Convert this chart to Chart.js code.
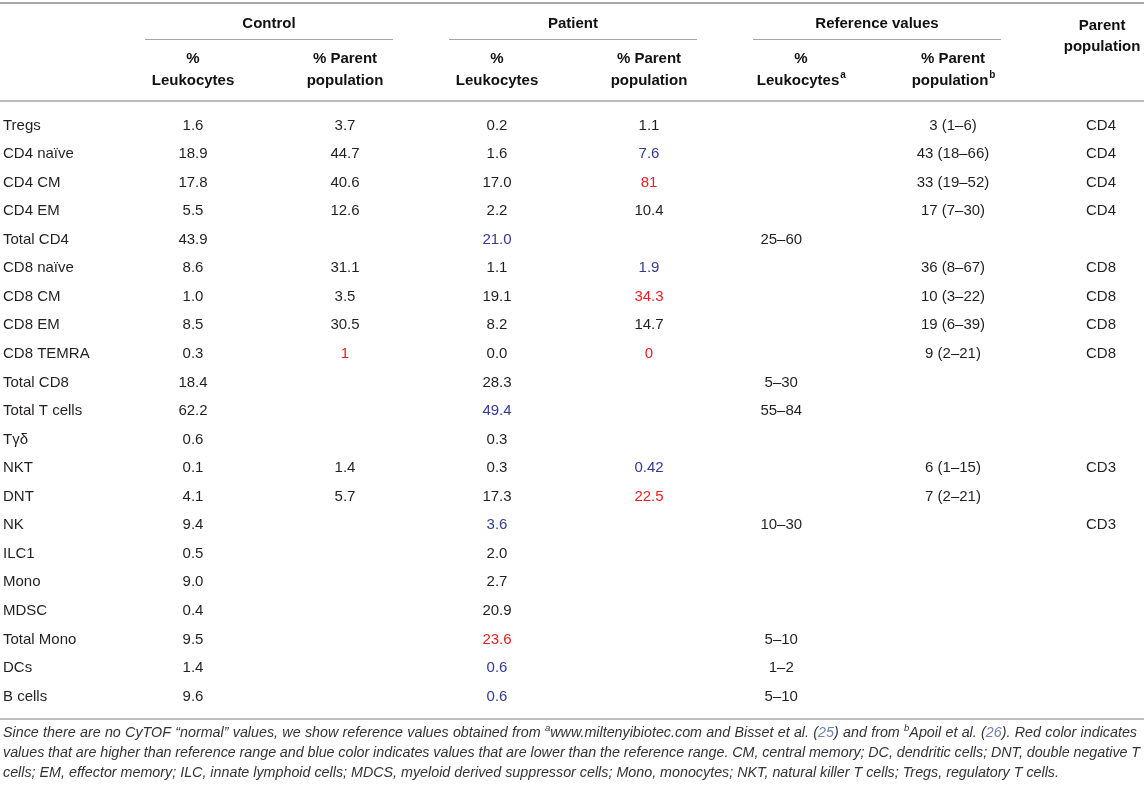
<!DOCTYPE html>
<html>
<head>
<meta charset="utf-8">
<script src="https://cdn.jsdelivr.net/npm/chart.js@4"></script>
<style>
html, body { margin: 0; padding: 0; background: #fff; }
canvas { display: block; }
</style>
</head>
<body>
<canvas id="tableChart" width="1144" height="790"></canvas>
<script>
// table rows
const cellTypes = ['Tregs', 'CD4 naïve', 'CD4 CM', 'CD4 EM', 'Total CD4', 'CD8 naïve', 'CD8 CM', 'CD8 EM',
  'CD8 TEMRA', 'Total CD8', 'Total T cells', 'Tγδ', 'NKT', 'DNT', 'NK', 'ILC1', 'Mono', 'MDSC',
  'Total Mono', 'DCs', 'B cells'];

const controlLeuk = [1.6, 18.9, 17.8, 5.5, 43.9, 8.6, 1.0, 8.5, 0.3, 18.4, 62.2, 0.6, 0.1, 4.1, 9.4, 0.5, 9.0, 0.4, 9.5, 1.4, 9.6];
const controlParent = [3.7, 44.7, 40.6, 12.6, null, 31.1, 3.5, 30.5, 1, null, null, null, 1.4, 5.7, null, null, null, null, null, null, null];
const patientLeuk = [0.2, 1.6, 17.0, 2.2, 21.0, 1.1, 19.1, 8.2, 0.0, 28.3, 49.4, 0.3, 0.3, 17.3, 3.6, 2.0, 2.7, 20.9, 23.6, 0.6, 0.6];
const patientParent = [1.1, 7.6, 81, 10.4, null, 1.9, 34.3, 14.7, 0, null, null, null, 0.42, 22.5, null, null, null, null, null, null, null];
const refLeuk = ['', '', '', '', '25–60', '', '', '', '', '5–30', '55–84', '', '', '', '10–30', '', '', '', '5–10', '1–2', '5–10'];
const refParent = ['3 (1–6)', '43 (18–66)', '33 (19–52)', '17 (7–30)', '', '36 (8–67)', '10 (3–22)', '19 (6–39)', '9 (2–21)',
  '', '', '', '6 (1–15)', '7 (2–21)', '', '', '', '', '', '', ''];
const parentPop = ['CD4', 'CD4', 'CD4', 'CD4', '', 'CD8', 'CD8', 'CD8', 'CD8', '', '', '', 'CD3', '', 'CD3', '', '', '', '', '', ''];

// H = above reference range (red), L = below (blue)
const controlParentFlag = ['', '', '', '', '', '', '', '', 'H', '', '', '', '', '', '', '', '', '', '', '', ''];
const patientLeukFlag = ['', '', '', '', 'L', '', '', '', '', '', 'L', '', '', '', 'L', '', '', '', 'H', 'L', 'L'];
const patientParentFlag = ['', 'L', 'H', '', '', 'L', 'H', '', 'H', '', '', '', 'L', 'H', '', '', '', '', '', '', ''];

const RED = '#ed1c24';
const BLUE = '#343895';
const TEXT = '#231f20';
const RULE = '#a7a7a7';
const FONT = '"Liberation Sans", Arial, Helvetica, sans-serif';

function fmtLeuk(v) { return v === null ? '' : v.toFixed(1); }
function fmtParent(v) { return v === null ? '' : String(v); }

function column(col, texts, flags, align) {
  return {
    data: texts.map((t, i) => ({ x: col, y: i, text: t, flag: flags ? flags[i] : '' })),
    align: align || 'center',
    pointRadius: 0,
    showLine: false
  };
}

const datasets = [
  column(-0.25, cellTypes, null, 'left'),
  column(1, controlLeuk.map(fmtLeuk)),
  column(2, controlParent.map(fmtParent), controlParentFlag),
  column(3, patientLeuk.map(fmtLeuk), patientLeukFlag),
  column(4, patientParent.map(fmtParent), patientParentFlag),
  column(4.87, refLeuk),
  column(6, refParent),
  column(6.974, parentPop)
];

// draws a line of mixed runs, optionally justified to a width
function drawRuns(ctx, runs, x, y, justifyTo) {
  const base = 'italic 14.3px ' + FONT;
  const small = 'italic 9.5px ' + FONT;
  let natural = 0, spaces = 0;
  runs.forEach(r => {
    ctx.font = r.sup ? small : base;
    natural += ctx.measureText(r.t).width;
    spaces += (r.t.match(/ /g) || []).length;
  });
  const extra = justifyTo && spaces ? (justifyTo - natural) / spaces : 0;
  let cx = x;
  runs.forEach(r => {
    ctx.font = r.sup ? small : base;
    ctx.fillStyle = r.color || '#333';
    const parts = r.t.split(' ');
    parts.forEach((p, k) => {
      ctx.fillText(p, cx, r.sup ? y - 5 : y);
      cx += ctx.measureText(p).width;
      if (k < parts.length - 1) cx += ctx.measureText(' ').width + extra;
    });
  });
}

const tablePlugin = {
  id: 'tableText',
  afterDatasetsDraw(chart) {
    const ctx = chart.ctx;
    const xs = chart.scales.x;
    ctx.save();

    // rules
    ctx.strokeStyle = RULE;
    ctx.lineWidth = 2;
    ctx.beginPath(); ctx.moveTo(0, 3); ctx.lineTo(1144, 3); ctx.stroke();
    ctx.lineWidth = 1.5;
    ctx.beginPath(); ctx.moveTo(0, 101); ctx.lineTo(1144, 101); ctx.stroke();
    ctx.beginPath(); ctx.moveTo(0, 719); ctx.lineTo(1144, 719); ctx.stroke();
    ctx.lineWidth = 1;
    [[1, 2], [3, 4], [5, 6]].forEach(([a, b]) => {
      const x0 = xs.getPixelForValue(a) - 48, x1 = xs.getPixelForValue(b) + 48;
      ctx.beginPath(); ctx.moveTo(x0, 39.5); ctx.lineTo(x1, 39.5); ctx.stroke();
    });

    // header
    ctx.fillStyle = '#111';
    ctx.textAlign = 'center';
    ctx.textBaseline = 'middle';
    ctx.font = 'bold 15px ' + FONT;
    const groups = [['Control', 1, 2], ['Patient', 3, 4], ['Reference values', 5, 6]];
    groups.forEach(([t, a, b]) => {
      const cx = (xs.getPixelForValue(a) + xs.getPixelForValue(b)) / 2;
      ctx.fillText(t, cx, 23.5);
    });
    const sub = [
      [1, '%', 'Leukocytes', ''], [2, '% Parent', 'population', ''],
      [3, '%', 'Leukocytes', ''], [4, '% Parent', 'population', ''],
      [5, '%', 'Leukocytes', 'a'], [6, '% Parent', 'population', 'b']
    ];
    sub.forEach(([c, l1, l2, sup]) => {
      const cx = xs.getPixelForValue(c);
      ctx.font = 'bold 15px ' + FONT;
      ctx.textAlign = 'center';
      ctx.fillText(l1, cx, 58.5);
      if (sup) {
        const w = ctx.measureText(l2).width;
        ctx.textAlign = 'left';
        const sx = cx - (w + 6) / 2;
        ctx.fillText(l2, sx, 80.5);
        ctx.font = 'bold 10px ' + FONT;
        ctx.fillText(sup, sx + w + 1, 75.5);
      } else {
        ctx.fillText(l2, cx, 80.5);
      }
    });
    ctx.font = 'bold 15px ' + FONT;
    ctx.textAlign = 'center';
    const px = xs.getPixelForValue(6.974) + 1;
    ctx.fillText('Parent', px, 25.5);
    ctx.fillText('population', px, 47);

    // body cells, positioned by the scales
    ctx.font = '15px ' + FONT;
    chart.data.datasets.forEach((ds, di) => {
      const meta = chart.getDatasetMeta(di);
      ctx.textAlign = ds.align;
      meta.data.forEach((pt, i) => {
        const d = ds.data[i];
        if (!d.text) return;
        ctx.fillStyle = d.flag === 'H' ? RED : d.flag === 'L' ? BLUE : TEXT;
        ctx.fillText(d.text, pt.x, pt.y + 1.5);
      });
    });

    // footnote
    ctx.textAlign = 'left';
    ctx.textBaseline = 'middle';
    const LINK = '#6f80b4';
    drawRuns(ctx, [
      { t: 'Since there are no CyTOF “normal” values, we show reference values obtained from ' },
      { t: 'a', sup: true },
      { t: 'www.miltenyibiotec.com and Bisset et al. (' },
      { t: '25', color: LINK },
      { t: ') and from ' },
      { t: 'b', sup: true },
      { t: 'Apoil et al. (' },
      { t: '26', color: LINK },
      { t: '). Red color indicates' }
    ], 3, 733, 1134);
    drawRuns(ctx, [
      { t: 'values that are higher than reference range and blue color indicates values that are lower than the reference range. CM, central memory; DC, dendritic cells; DNT, double negative T' }
    ], 3, 753, 1137);
    drawRuns(ctx, [
      { t: 'cells; EM, effector memory; ILC, innate lymphoid cells; MDCS, myeloid derived suppressor cells; Mono, monocytes; NKT, natural killer T cells; Tregs, regulatory T cells.' }
    ], 3, 773, 0);

    ctx.restore();
  }
};

new Chart(document.getElementById('tableChart'), {
  type: 'scatter',
  data: { datasets: datasets },
  options: {
    responsive: false,
    animation: false,
    devicePixelRatio: 1,
    layout: { padding: 0 },
    plugins: { legend: { display: false }, tooltip: { enabled: false } },
    scales: {
      x: { type: 'linear', min: -0.2697, max: 7.2566, display: false },
      y: { type: 'linear', min: -4.343, max: 23.327, reverse: true, display: false }
    }
  },
  plugins: [tablePlugin]
});
</script>
</body>
</html>
